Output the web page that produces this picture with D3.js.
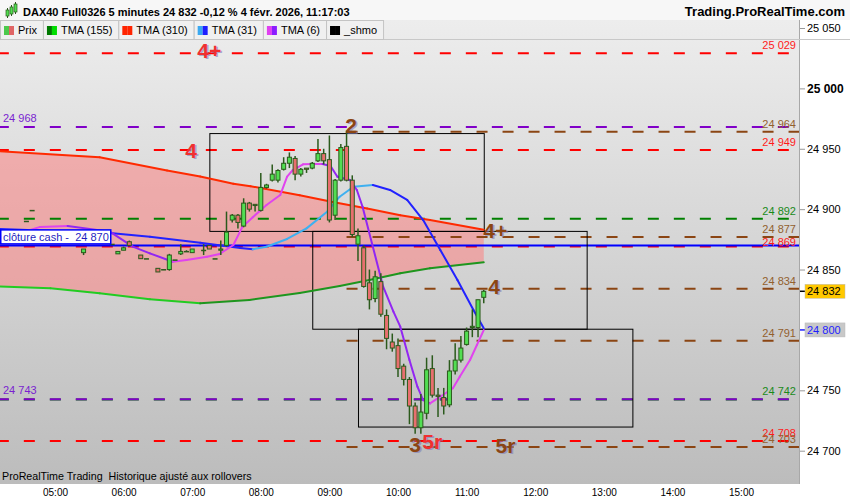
<!DOCTYPE html>
<html>
<head>
<meta charset="utf-8">
<script src="https://cdn.jsdelivr.net/npm/d3@7"></script>
<style>
  body { margin: 0; background: #fff; }
  svg { display: block; font-family: "Liberation Sans", Arial, sans-serif; }
</style>
</head>
<body>
<svg id="chart" width="850" height="500"></svg>
<script>
// ---- data ----
const candleTimes = ['04:25','04:35','04:40','05:25','05:50','05:55','06:00','06:05','06:15','06:20','06:30','06:35','06:40','06:45','06:50','06:55','07:00','07:10','07:15','07:20','07:25',
  '07:30','07:35','07:40','07:45','07:50','07:55','08:00','08:05','08:10','08:15','08:20','08:25','08:30','08:35','08:40','08:45','08:50','08:55',
  '09:00','09:05','09:10','09:15','09:20','09:25','09:30','09:35','09:40','09:45','09:50','09:55',
  '10:00','10:05','10:10','10:15','10:20','10:25','10:30','10:35','10:40','10:45','10:50','10:55',
  '11:00','11:05','11:10','11:15'];
const opens  = [24883,24890,24899,24864,24871,24863,24866,24873,24862,24859,24851,24850,24850,24858,24863,24865,24864,24866,24870,24859,24866,
  24870,24891,24895,24886,24905,24904,24899,24918,24924,24924,24933,24938,24942,24929,24934,24934,24940,24946,
  24941,24895,24924,24952,24924,24871,24868,24839,24826,24840,24812,24790,
  24787,24770,24759,24737,24719,24731,24768,24746,24744,24738,24766,24775,
  24788,24802,24802,24827];
const highs  = [24883,24890,24899,24867,24871,24865,24869,24874,24862,24859,24851,24850,24863,24858,24871,24866,24867,24871,24870,24859,24874,
  24898,24896,24896,24909,24906,24904,24930,24921,24937,24933,24943,24947,24944,24934,24934,24939,24958,24950,
  24961,24925,24954,24965,24928,24884,24870,24850,24849,24847,24817,24797,
  24793,24772,24761,24740,24747,24777,24779,24752,24752,24775,24789,24795,
  24802,24817,24825,24833];
const lows   = [24883,24890,24899,24862,24871,24863,24866,24870,24859,24859,24848,24850,24849,24858,24862,24865,24864,24862,24867,24859,24862,
  24869,24889,24884,24885,24898,24898,24898,24917,24923,24922,24932,24934,24924,24927,24930,24933,24939,24937,
  24889,24891,24923,24923,24877,24857,24835,24817,24823,24811,24784,24782,
  24761,24754,24722,24714,24714,24726,24744,24728,24730,24736,24763,24773,
  24787,24794,24794,24822];
const closes = [24883,24890,24899,24867,24871,24865,24868,24870,24859,24859,24848,24850,24862,24858,24865,24865,24867,24866,24867,24859,24867,
  24881,24895,24889,24905,24900,24903,24918,24920,24929,24932,24938,24943,24929,24933,24933,24938,24946,24940,
  24891,24924,24951,24924,24879,24878,24836,24825,24844,24813,24793,24785,
  24768,24759,24737,24719,24732,24767,24746,24745,24737,24766,24775,24785,
  24799,24803,24825,24832];

// moving averages (TMA 310, 155, 31, 6)
const tma310Times = ['04:10','05:39','06:38','07:07','07:36','07:51','08:34','09:03','09:33','10:02','10:28','11:15'];
const tma310Vals  = [24948,24943,24932,24927,24921,24919,24911.5,24906,24900.5,24895,24891,24883];
const tma155Times = ['04:10','04:56','05:39','06:23','07:07','07:50','08:34','09:09','09:35','10:02','10:28','11:15'];
const tma155Vals  = [24836,24834.5,24830.3,24825.4,24822,24824.8,24830.6,24836.4,24841.3,24846.9,24851,24856];
const tma31Times = ['04:10','05:48','06:23','07:07','07:42','07:53','08:05','08:23','08:40','08:58','09:09','09:21','09:38','09:53','10:08','10:22','10:37','10:52','11:06','11:15'];
const tma31Vals  = [24883.6,24880.3,24877.2,24872.2,24867.8,24866.8,24868.9,24875.3,24884.1,24897.9,24910.3,24918.6,24920,24915.9,24907.6,24891,24866.2,24841.3,24816.5,24801.3];
const tma6Times = ['04:10','04:47','05:11','05:48','06:08','06:23','06:43','06:55','07:13','07:24','07:36','07:44','07:53','08:05','08:17','08:23','08:28','08:37','08:46','08:54','09:01','09:07','09:18','09:24','09:29','09:38','09:47','09:56','10:02','10:10','10:17','10:22','10:28','10:37','10:48','10:54','11:03','11:09','11:15'];
const tma6Vals  = [24874.5,24885.3,24886.1,24881.4,24869,24863.4,24856.5,24857.9,24860.6,24862.9,24870.3,24885.5,24893.3,24903.4,24911.7,24926.9,24932.4,24937.1,24937.4,24937.4,24935.7,24926.9,24924.1,24915.9,24902,24868.9,24835.8,24815.1,24802.7,24775.1,24753,24741.9,24739.2,24744.7,24751.7,24761.3,24775.1,24787.5,24799.9];

// horizontal levels
const levelValues = [25029, 24968, 24964, 24949, 24892, 24877, 24869, 24834, 24791, 24742.4, 24742.6, 24708, 24703];
const levelKinds  = ['red','purple','brown','red','green','brown','red','brown','brown','green','purple','red','brown'];
const levelStarts = ['04:10','04:10','09:15','04:10','04:10','09:15','04:10','09:15','09:15','04:10','04:10','04:10','09:15'];
const cashClose = 24870;

// zone boxes
const boxStarts = ['07:15','08:45','09:25'];
const boxEnds   = ['11:15','12:45','13:25'];
const boxTops   = [24963, 24882, 24801];
const boxBottoms= [24882, 24801, 24720];

// wave markers
const markerTexts  = ['4+','4','2','4+','4','3','5r','5r'];
const markerKinds  = ['red','red','brown','brown','brown','brown','red','brown'];
const markerTimes  = ['07:15','06:59','09:19','11:25','11:24','10:15','10:30','11:34'];
const markerValues = [25031.4, 24949, 24969.7, 24882.3, 24836.4, 24705.1, 24707.6, 24704.7];

const yTicks = [25050, 25000, 24950, 24900, 24850, 24750, 24700];
const xTickLabels = ['05:00','06:00','07:00','08:00','09:00','10:00','11:00','12:00','13:00','14:00','15:00'];
const tagValues = [24832, 24800];

const legendNames = ['Prix','TMA (155)','TMA (310)','TMA (31)','TMA (6)','_shmo'];

// ---- styles ----
const kindColor = { red: '#ff0000', purple: '#8000c8', brown: '#8b4513', green: '#008000' };
const kindText  = { red: '#ff1a1a', purple: '#7a1fd0', brown: '#92602e', green: '#1a8a1a' };
const legendIcons = {
  'Prix': ['#4cc94c', '#e06565'], 'TMA (155)': ['#007800', '#00dd00'], 'TMA (310)': ['#ff2400', '#ff2400'],
  'TMA (31)': ['#3aa8f0', '#1e1eff'], 'TMA (6)': ['#e040f0', '#8a1cff'], '_shmo': ['#000', '#000']
};

const toMin = (s) => { const p = s.split(':').map(Number); return p[0] * 60 + p[1]; };
const fmt = d3.formatLocale({ decimal: ',', thousands: ' ', grouping: [3], currency: ['', ''] }).format(',d');

const svg = d3.select('#chart');
const x = d3.scaleLinear().domain([toMin('05:00'), toMin('15:00')]).range([55, 741]);
const y = d3.scaleLinear().domain([24700, 25050]).range([450.7, 28]);
const plotRight = 799, plotBottom = 484;

const defs = svg.append('defs');
const grad = defs.append('linearGradient').attr('id', 'bg').attr('x1', 0).attr('y1', 0).attr('x2', 0).attr('y2', 1);
grad.append('stop').attr('offset', '0%').attr('stop-color', '#ededed');
grad.append('stop').attr('offset', '100%').attr('stop-color', '#bcbcbc');
defs.append('clipPath').attr('id', 'plotClip').append('rect')
  .attr('x', 0).attr('y', 40).attr('width', plotRight).attr('height', plotBottom - 40);

svg.append('rect').attr('width', 850).attr('height', 500).attr('fill', '#fff');
svg.append('rect').attr('x', 0).attr('y', 0).attr('width', 850).attr('height', 20).attr('fill', '#f7f7f7');
svg.append('rect').attr('x', 0).attr('y', 20).attr('width', plotRight).attr('height', plotBottom - 20).attr('fill', 'url(#bg)');

const plot = svg.append('g').attr('clip-path', 'url(#plotClip)');

// pink band between TMA 310 and TMA 155
const redPts = tma310Times.map((t, i) => [x(toMin(t)), y(tma310Vals[i])]);
const greenPts = tma155Times.map((t, i) => [x(toMin(t)), y(tma155Vals[i])]);
plot.append('path')
  .attr('d', d3.line()(redPts.concat(greenPts.slice().reverse())) + 'Z')
  .attr('fill', '#ff7a7a').attr('opacity', 0.5);

// level lines
levelValues.forEach((v, i) => {
  plot.append('line')
    .attr('x1', x(toMin(levelStarts[i]))).attr('x2', plotRight)
    .attr('y1', y(v)).attr('y2', y(v))
    .attr('stroke', kindColor[levelKinds[i]]).attr('stroke-width', 2)
    .attr('stroke-dasharray', '11,15');
});
plot.append('line').attr('x1', 0).attr('x2', plotRight)
  .attr('y1', y(cashClose)).attr('y2', y(cashClose))
  .attr('stroke', '#0000ff').attr('stroke-width', 2);

// level labels: purple ones on the left, others on the right;
// a right label close under another one is nudged down (like the platform does)
let prevRight = -100;
levelValues.forEach((v, i) => {
  const kind = levelKinds[i];
  const t = plot.append('text').attr('font-size', 11).attr('fill', kindText[kind]).text(fmt(Math.round(v)));
  if (kind === 'purple') {
    t.attr('x', 3).attr('y', y(v) - 5);
  } else {
    let by = y(v) - 4;
    const gap = by - prevRight;
    if (gap >= 8 && gap < 13) by = prevRight + 13;
    t.attr('x', 796).attr('y', by).attr('text-anchor', 'end');
    prevRight = by;
  }
});

// zone boxes
boxStarts.forEach((s, i) => {
  plot.append('rect')
    .attr('x', x(toMin(s)) + 0.5).attr('y', y(boxTops[i]) + 0.5)
    .attr('width', x(toMin(boxEnds[i])) - x(toMin(s)))
    .attr('height', y(boxBottoms[i]) - y(boxTops[i]))
    .attr('fill', 'none').attr('stroke', '#000').attr('stroke-width', 1);
});

// moving averages, coloured by slope
const drawSlopeLine = (times, vals, upColor, downColor) => {
  const pts = times.map((t, i) => [x(toMin(t)), y(vals[i])]);
  for (let i = 0; i < pts.length - 1; ++i) {
    plot.append('path')
      .attr('d', d3.line()([pts[i], pts[i + 1]]))
      .attr('fill', 'none').attr('stroke-width', 2).attr('stroke-linecap', 'round')
      .attr('stroke', vals[i + 1] >= vals[i] ? upColor : downColor);
  }
};
drawSlopeLine(tma310Times, tma310Vals, '#ff2a00', '#ff2a00');
drawSlopeLine(tma155Times, tma155Vals, '#1e961e', '#22cc22');
drawSlopeLine(tma31Times, tma31Vals, '#3eb0f0', '#2222ff');
drawSlopeLine(tma6Times, tma6Vals, '#e044ee', '#9226f2');

// candles
const candles = candleTimes.map((t, i) => ({ t: toMin(t), o: opens[i], h: highs[i], l: lows[i], c: closes[i] }));
const cg = plot.append('g');
cg.selectAll('line').data(candles).enter().append('line')
  .attr('x1', (d) => x(d.t)).attr('x2', (d) => x(d.t))
  .attr('y1', (d) => y(d.h)).attr('y2', (d) => y(d.l))
  .attr('stroke', '#2b5a1c').attr('stroke-width', 1.5);
cg.selectAll('rect').data(candles).enter().append('rect')
  .attr('x', (d) => x(d.t) - 2).attr('width', 4)
  .attr('y', (d) => y(Math.max(d.o, d.c)))
  .attr('height', (d) => Math.max(0.5, Math.abs(y(d.o) - y(d.c))))
  .attr('fill', (d) => d.c >= d.o ? '#52de52' : '#e86f6f')
  .attr('stroke', '#2b5a1c').attr('stroke-width', 1);

// wave markers with a soft shadow
markerTexts.forEach((txt, i) => {
  const mx = x(toMin(markerTimes[i])), my = y(markerValues[i]);
  plot.append('text').attr('x', mx + 1.5).attr('y', my + 1).attr('dy', '0.36em')
    .attr('text-anchor', 'middle').attr('font-size', 21).attr('font-weight', 'bold')
    .attr('fill', '#7f7fb8').attr('opacity', 0.6).text(txt);
  plot.append('text').attr('x', mx).attr('y', my).attr('dy', '0.36em')
    .attr('text-anchor', 'middle').attr('font-size', 21).attr('font-weight', 'bold')
    .attr('fill', markerKinds[i] === 'red' ? '#f03030' : '#8b4513').text(txt);
});

// cash close label
const cashY = y(cashClose);
plot.append('rect').attr('x', 0.75).attr('y', cashY - 15.5).attr('width', 110).attr('height', 14)
  .attr('fill', '#fff').attr('stroke', '#0000ff').attr('stroke-width', 1.5);
plot.append('text').attr('x', 3).attr('y', cashY - 4.5).attr('font-size', 11).attr('fill', '#1f1fbf')
  .text('clôture cash -\u00a0 ' + fmt(cashClose));

// right price axis
svg.append('line').attr('x1', plotRight + 0.5).attr('x2', plotRight + 0.5).attr('y1', 20).attr('y2', plotBottom)
  .attr('stroke', '#a8a8a8');
const yAxis = svg.append('g').attr('transform', 'translate(800,0)')
  .call(d3.axisRight(y).tickValues(yTicks).tickSize(5).tickPadding(2).tickFormat(fmt));
yAxis.select('.domain').remove();
yAxis.selectAll('line').attr('stroke', '#999');
yAxis.selectAll('text').attr('font-size', 11).attr('fill', '#000').attr('font-family', null);
yAxis.selectAll('text').filter((d) => d === 25000).attr('font-weight', 'bold').attr('font-size', 12);

const tagFill = ['#ffc800', '#c8c8c8'], tagText = ['#000', '#1e1eff'], tagTick = ['#000', '#1e1eff'];
tagValues.forEach((v, i) => {
  const ty = y(v);
  svg.append('line').attr('x1', 800).attr('x2', 805).attr('y1', ty).attr('y2', ty).attr('stroke', tagTick[i]).attr('stroke-width', 1.5);
  svg.append('rect').attr('x', 805).attr('y', ty - 7).attr('width', 40).attr('height', 14).attr('fill', tagFill[i]).attr('stroke', '#bbb').attr('stroke-width', 0.5);
  svg.append('text').attr('x', 807).attr('y', ty + 4).attr('font-size', 11).attr('fill', tagText[i]).text(fmt(v));
});

// bottom time axis
svg.append('rect').attr('x', 0).attr('y', plotBottom).attr('width', 850).attr('height', 500 - plotBottom).attr('fill', '#fff');
const xAxis = svg.append('g').attr('transform', 'translate(0,' + plotBottom + ')')
  .call(d3.axisBottom(x).tickValues(xTickLabels.map(toMin)).tickSize(0).tickPadding(5)
    .tickFormat((d, i) => xTickLabels[i]));
xAxis.select('.domain').remove();
xAxis.selectAll('text').attr('font-size', 10).attr('fill', '#000').attr('font-family', null);

svg.append('text').attr('x', 2).attr('y', 480).attr('font-size', 10.7).attr('fill', '#000')
  .text('ProRealTime Trading\u00a0 Historique ajusté aux rollovers');

// title row
const icon = svg.append('g');
[[6, 10, 6], [10, 7, 7], [14, 4, 8]].forEach((c) => {
  icon.append('line').attr('x1', c[0] + 1.5).attr('x2', c[0] + 1.5).attr('y1', c[1] - 2).attr('y2', c[1] + c[2] + 2).attr('stroke', '#2b5a1c');
  icon.append('rect').attr('x', c[0]).attr('y', c[1]).attr('width', 3).attr('height', c[2]).attr('fill', '#52de52').attr('stroke', '#2b5a1c').attr('stroke-width', 0.7);
});
svg.append('text').attr('x', 23).attr('y', 16).attr('font-size', 11).attr('font-weight', 'bold')
  .text('DAX40 Full0326 5 minutes 24 832 -0,12 % 4 févr. 2026, 11:17:03');
svg.append('text').attr('x', 845).attr('y', 16).attr('font-size', 13).attr('font-weight', 'bold')
  .attr('text-anchor', 'end').text('Trading.ProRealTime.com');

// legend row
svg.append('line').attr('x1', 0).attr('x2', 850).attr('y1', 39.5).attr('y2', 39.5).attr('stroke', '#c8c8c8');
let lx = 0;
legendNames.forEach((name) => {
  const g = svg.append('g');
  const box = g.append('rect').attr('y', 20.5).attr('height', 19).attr('fill', '#f0f0f0').attr('stroke', '#c4c4c4');
  const cols = legendIcons[name];
  g.append('rect').attr('x', lx + 4).attr('y', 26).attr('width', 5).attr('height', 9).attr('fill', cols[0]);
  g.append('rect').attr('x', lx + 9).attr('y', 26).attr('width', 5).attr('height', 9).attr('fill', cols[1]);
  const t = g.append('text').attr('x', lx + 18).attr('y', 34).attr('font-size', 11).attr('fill', '#000').text(name);
  const w = t.node().getComputedTextLength() + 24;
  box.attr('x', lx + 0.5).attr('width', w);
  lx += w;
});
</script>
</body>
</html>
